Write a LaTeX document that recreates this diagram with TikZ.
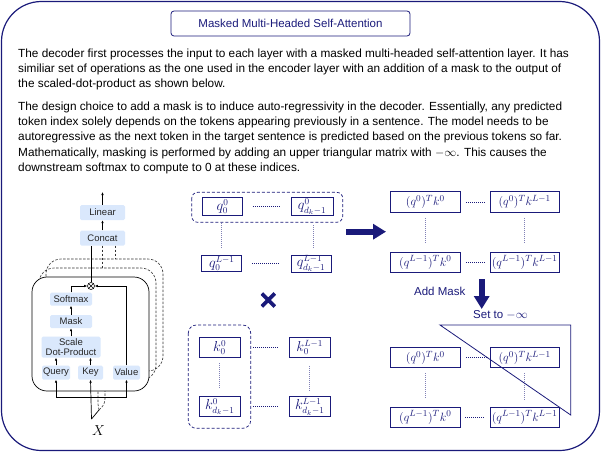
\documentclass[tikz,border=0pt]{standalone}
\usepackage{fontspec}
\setmainfont{Liberation Sans}
\usetikzlibrary{arrows.meta}
\definecolor{mynavy}{HTML}{1A1A7A}
\definecolor{lblue}{HTML}{DAE8FC}
\begin{document}
\begin{tikzpicture}[x=1pt,y=-1pt,
  lbox/.style={fill=lblue, rounded corners=1.5pt, inner sep=0pt, text=black!85, font=\fontsize{9.5}{10.5}\selectfont, align=center},
  mbox/.style={draw=mynavy, line width=0.8pt, text=mynavy, inner sep=0pt, font=\fontsize{13.5}{14}\selectfont},
  pbox/.style={mbox, font=\fontsize{12.3}{14}\selectfont},
  arr/.style={-{Latex[length=3pt,width=2.6pt]}, line width=0.7pt},
  ln/.style={line width=0.7pt},
  dln/.style={line width=0.6pt, dash pattern=on 2.5pt off 1.5pt, black!80},
  hdot/.style={mynavy, line width=0.6pt, dash pattern=on 0.8pt off 1.2pt},
  vdot/.style={mynavy!55, line width=0.6pt, dash pattern=on 1pt off 1pt},
  bigarr/.style={mynavy, line width=6pt, -{Triangle[length=13pt,width=15pt]}},
  lbl/.style={text=mynavy, font=\fontsize{11.5}{13}\selectfont, inner sep=0pt},
  para/.style={anchor=north west, align=left, inner sep=0pt, font=\fontsize{11.8}{15.3}\selectfont}
]
\useasboundingbox (0,0) rectangle (601,452);
% outer frame
\draw[mynavy, line width=1.2pt, rounded corners=40pt] (1.5,1.5) rectangle (599.5,450.5);
% title
\node[draw=mynavy, line width=0.8pt, rounded corners=3pt, minimum width=239pt, minimum height=25pt, text=mynavy, font=\fontsize{11.5}{13}\selectfont, inner sep=0pt] (title) at (290.5,23.5) {Masked Multi-Headed Self-Attention};
% text
\node[para] (para1) at (18,48.5) {%
The decoder first processes the input to each layer with a masked multi-headed self-attention layer. It has\\
similiar set of operations as the one used in the encoder layer with an addition of a mask to the output of\\
the scaled-dot-product as shown below.};
\node[para] (para2) at (18,101.5) {%
The design choice to add a mask is to induce auto-regressivity in the decoder. Essentially, any predicted\\
token index solely depends on the tokens appearing previously in a sentence. The model needs to be\\
autoregressive as the next token in the target sentence is predicted based on the previous tokens so far.\\
Mathematically, masking is performed by adding an upper triangular matrix with $-\infty$. This causes the\\
downstream softmax to compute to 0 at these indices.};

% ---------------- left diagram ----------------
\coordinate (xa) at (91.5,419);
\coordinate (xb) at (99,410);
\draw[dln] (xb) -- (98,404) -- (98,380);
\draw[dln] (xb) .. controls (104,405) .. (105,399) -- (105,371);
\draw[dln, rounded corners=15pt] (46,259) rectangle (163,371);
\draw[dln, rounded corners=15pt] (39,268) rectangle (156,380);
\draw[ln, fill=white, rounded corners=15pt] (32,277) rectangle (149,391);

\node[lbox, minimum width=45pt, minimum height=15pt] (linear) at (102.5,212.5) {Linear};
\node[lbox, minimum width=45pt, minimum height=15pt] (concat) at (102.5,238) {Concat};
\node[lbox, minimum width=42pt, minimum height=13pt] (softmax) at (71,299) {Softmax};
\node[lbox, minimum width=42pt, minimum height=13pt] (mask) at (71,321.5) {Mask};
\node[lbox, minimum width=59pt, minimum height=21pt, font=\fontsize{9.5}{9.5}\selectfont] (sdp) at (71,347) {Scale\\Dot-Product};
\node[lbox, minimum width=28pt, minimum height=14pt] (query) at (56,372.5) {Query};
\node[lbox, minimum width=25pt, minimum height=14pt] (key) at (90.5,372.5) {Key};
\node[lbox, minimum width=27pt, minimum height=14pt] (value) at (126.5,372.5) {Value};
\node[draw, circle, line width=0.6pt, minimum size=7pt, inner sep=0pt,
  path picture={\draw[line width=0.5pt] (path picture bounding box.north west) -- (path picture bounding box.south east)
  (path picture bounding box.north east) -- (path picture bounding box.south west);}] (mult) at (91,286) {};
\coordinate (top) at (102.5,192);
\node[inner sep=0pt, font=\fontsize{14}{14}\selectfont] (xin) at (98.5,431) {$X$};

\draw[arr] (linear.north) -- (top);
\draw[arr] (concat.north) -- (linear.south);
\draw[ln] (mult.north) -- (mult.north |- concat.south);
\draw[dln] (102.5,245.5) -- (102.5,268);
\draw[dln] (115,245.5) -- (115,259);
\draw[arr] (softmax.north) |- (mult.west);
\draw[arr] (value.north) |- (mult.east);
\draw[arr] (mask.north) -- (softmax.south);
\draw[arr] (sdp.north) -- (mask.south);
\draw[arr] (query.north) -- (query.north |- sdp.south);
\draw[arr] (key.north) -- (key.north |- sdp.south);
\coordinate (hl) at (56,397);
\coordinate (hr) at (126.5,397);
\draw[ln] (hl) -- (hr);
\draw[arr] (hl) -- (query.south);
\draw[arr] (hr) -- (value.south);
\draw[arr] (xa) -- (key.south);
\draw[ln] (xa) -- (xb);

% ---------------- Q matrix ----------------
\draw[mynavy, line width=0.7pt, dash pattern=on 3pt off 2pt, rounded corners=6pt] (191.7,192.3) rectangle (342.7,222.3);
\node[mbox, minimum width=40pt, minimum height=18pt] (q00) at (222.5,206.7) {$q_0^0$};
\node[mbox, minimum width=42pt, minimum height=18pt] (q0d) at (312,206.7) {$q_{d_k-1}^0$};
\node[mbox, minimum width=40pt, minimum height=16pt] (qL0) at (221.7,263.5) {$q_0^{L-1}$};
\node[mbox, minimum width=40pt, minimum height=17pt] (qLd) at (311,263.5) {$q_{d_k-1}^{L-1}$};
\draw[hdot, shorten <=10pt, shorten >=11pt] (q00.east) -- (q0d.west);
\draw[hdot, shorten <=10pt, shorten >=11pt] (qL0.east) -- (qLd.west);
\draw[vdot, shorten <=7pt, shorten >=7pt] (q00.south -| qL0.north) -- (qL0.north);
\draw[vdot, shorten <=9pt, shorten >=7pt] (q0d.south -| 313,0) -- (313,255);

\node[minimum size=15pt, inner sep=0pt,
  path picture={\draw[mynavy, line width=3.8pt] ([shift={(1pt,-1pt)}]path picture bounding box.north west) -- ([shift={(-1pt,1pt)}]path picture bounding box.south east)
  ([shift={(-1pt,-1pt)}]path picture bounding box.north east) -- ([shift={(1pt,1pt)}]path picture bounding box.south west);}] (times) at (268.3,300) {};

% ---------------- K matrix ----------------
\draw[mynavy, line width=0.7pt, dash pattern=on 3pt off 2pt, rounded corners=8pt] (188.3,325) rectangle (250.7,428.3);
\node[mbox, minimum width=40.7pt, minimum height=20pt] (k00) at (219.7,347.5) {$k_0^0$};
\node[mbox, minimum width=40.7pt, minimum height=20pt] (k0d) at (219.7,406.7) {$k_{d_k-1}^0$};
\node[mbox, minimum width=40.7pt, minimum height=20pt] (kL0) at (309.7,347.5) {$k_0^{L-1}$};
\node[mbox, minimum width=40.7pt, minimum height=20pt] (kLd) at (309.7,406.7) {$k_{d_k-1}^{L-1}$};
\draw[hdot, shorten <=12.5pt, shorten >=11pt] (k00.east) -- (kL0.west);
\draw[hdot, shorten <=12.5pt, shorten >=11pt] (k0d.east) -- (kLd.west);
\draw[vdot, shorten <=5pt, shorten >=8pt] (k00.south) -- (k0d.north);
\draw[vdot, shorten <=8pt, shorten >=5pt] (kL0.south) -- (kLd.north);

% ---------------- products ----------------
\node[pbox, minimum width=70.7pt, minimum height=20.7pt] (p00) at (425.3,202) {$(q^0)^Tk^0$};
\node[pbox, minimum width=69.3pt, minimum height=20.7pt] (p0L) at (524.7,202) {$(q^0)^Tk^{L-1}$};
\node[pbox, minimum width=70.7pt, minimum height=20pt] (pL0) at (425.3,262.3) {$(q^{L-1})^Tk^0$};
\node[pbox, minimum width=69.3pt, minimum height=20pt] (pLL) at (524.7,262.3) {$(q^{L-1})^Tk^{L-1}$};
\draw[hdot, shorten <=5pt, shorten >=4pt] (p00.east) -- (p0L.west);
\draw[hdot, shorten <=5pt, shorten >=4pt] (pL0.east) -- (pLL.west);
\draw[vdot, shorten <=5pt, shorten >=9pt] (p00.south) -- (pL0.north);
\draw[vdot, shorten <=5pt, shorten >=9pt] (p0L.south) -- (pLL.north);

% ---------------- masked ----------------
\node[pbox, minimum width=69.3pt, minimum height=20pt] (m00) at (425.3,357.7) {$(q^0)^Tk^0$};
\node[pbox, minimum width=69.3pt, minimum height=20pt] (m0L) at (524.7,357.7) {$(q^0)^Tk^{L-1}$};
\node[pbox, minimum width=69.3pt, minimum height=20pt] (mL0) at (425.3,417.3) {$(q^{L-1})^Tk^0$};
\node[pbox, minimum width=69.3pt, minimum height=20pt] (mLL) at (524.7,417.3) {$(q^{L-1})^Tk^{L-1}$};
\draw[hdot, shorten <=6pt, shorten >=2pt] (m00.east) -- (m0L.west);
\draw[hdot, shorten <=5pt, shorten >=5pt] (mL0.east) -- (mLL.west);
\draw[vdot, shorten <=5pt, shorten >=8pt] (m00.south) -- (mL0.north);
\draw[vdot, shorten <=5pt, shorten >=7pt] (m0L.south) -- (mLL.north);
\coordinate (t1) at (440,325);
\coordinate (t2) at (570.7,325);
\coordinate (t3) at (570.7,415);
\draw[mynavy, line width=0.8pt] (t1) -- (t2) -- (t3) -- cycle;

% ---------------- big arrows & labels ----------------
\coordinate (ra1) at (346,231.7);
\coordinate (ra2) at (386,231.7);
\draw[bigarr] (ra1) -- (ra2);
\coordinate (da1) at (481.7,279);
\coordinate (da2) at (481.7,309);
\draw[bigarr] (da1) -- (da2);
\node[lbl] (addmask) at (439.7,291.7) {Add Mask};
\node[lbl, anchor=west] (setto) at (473,315) {Set to $-\infty$};
\end{tikzpicture}
\end{document}
